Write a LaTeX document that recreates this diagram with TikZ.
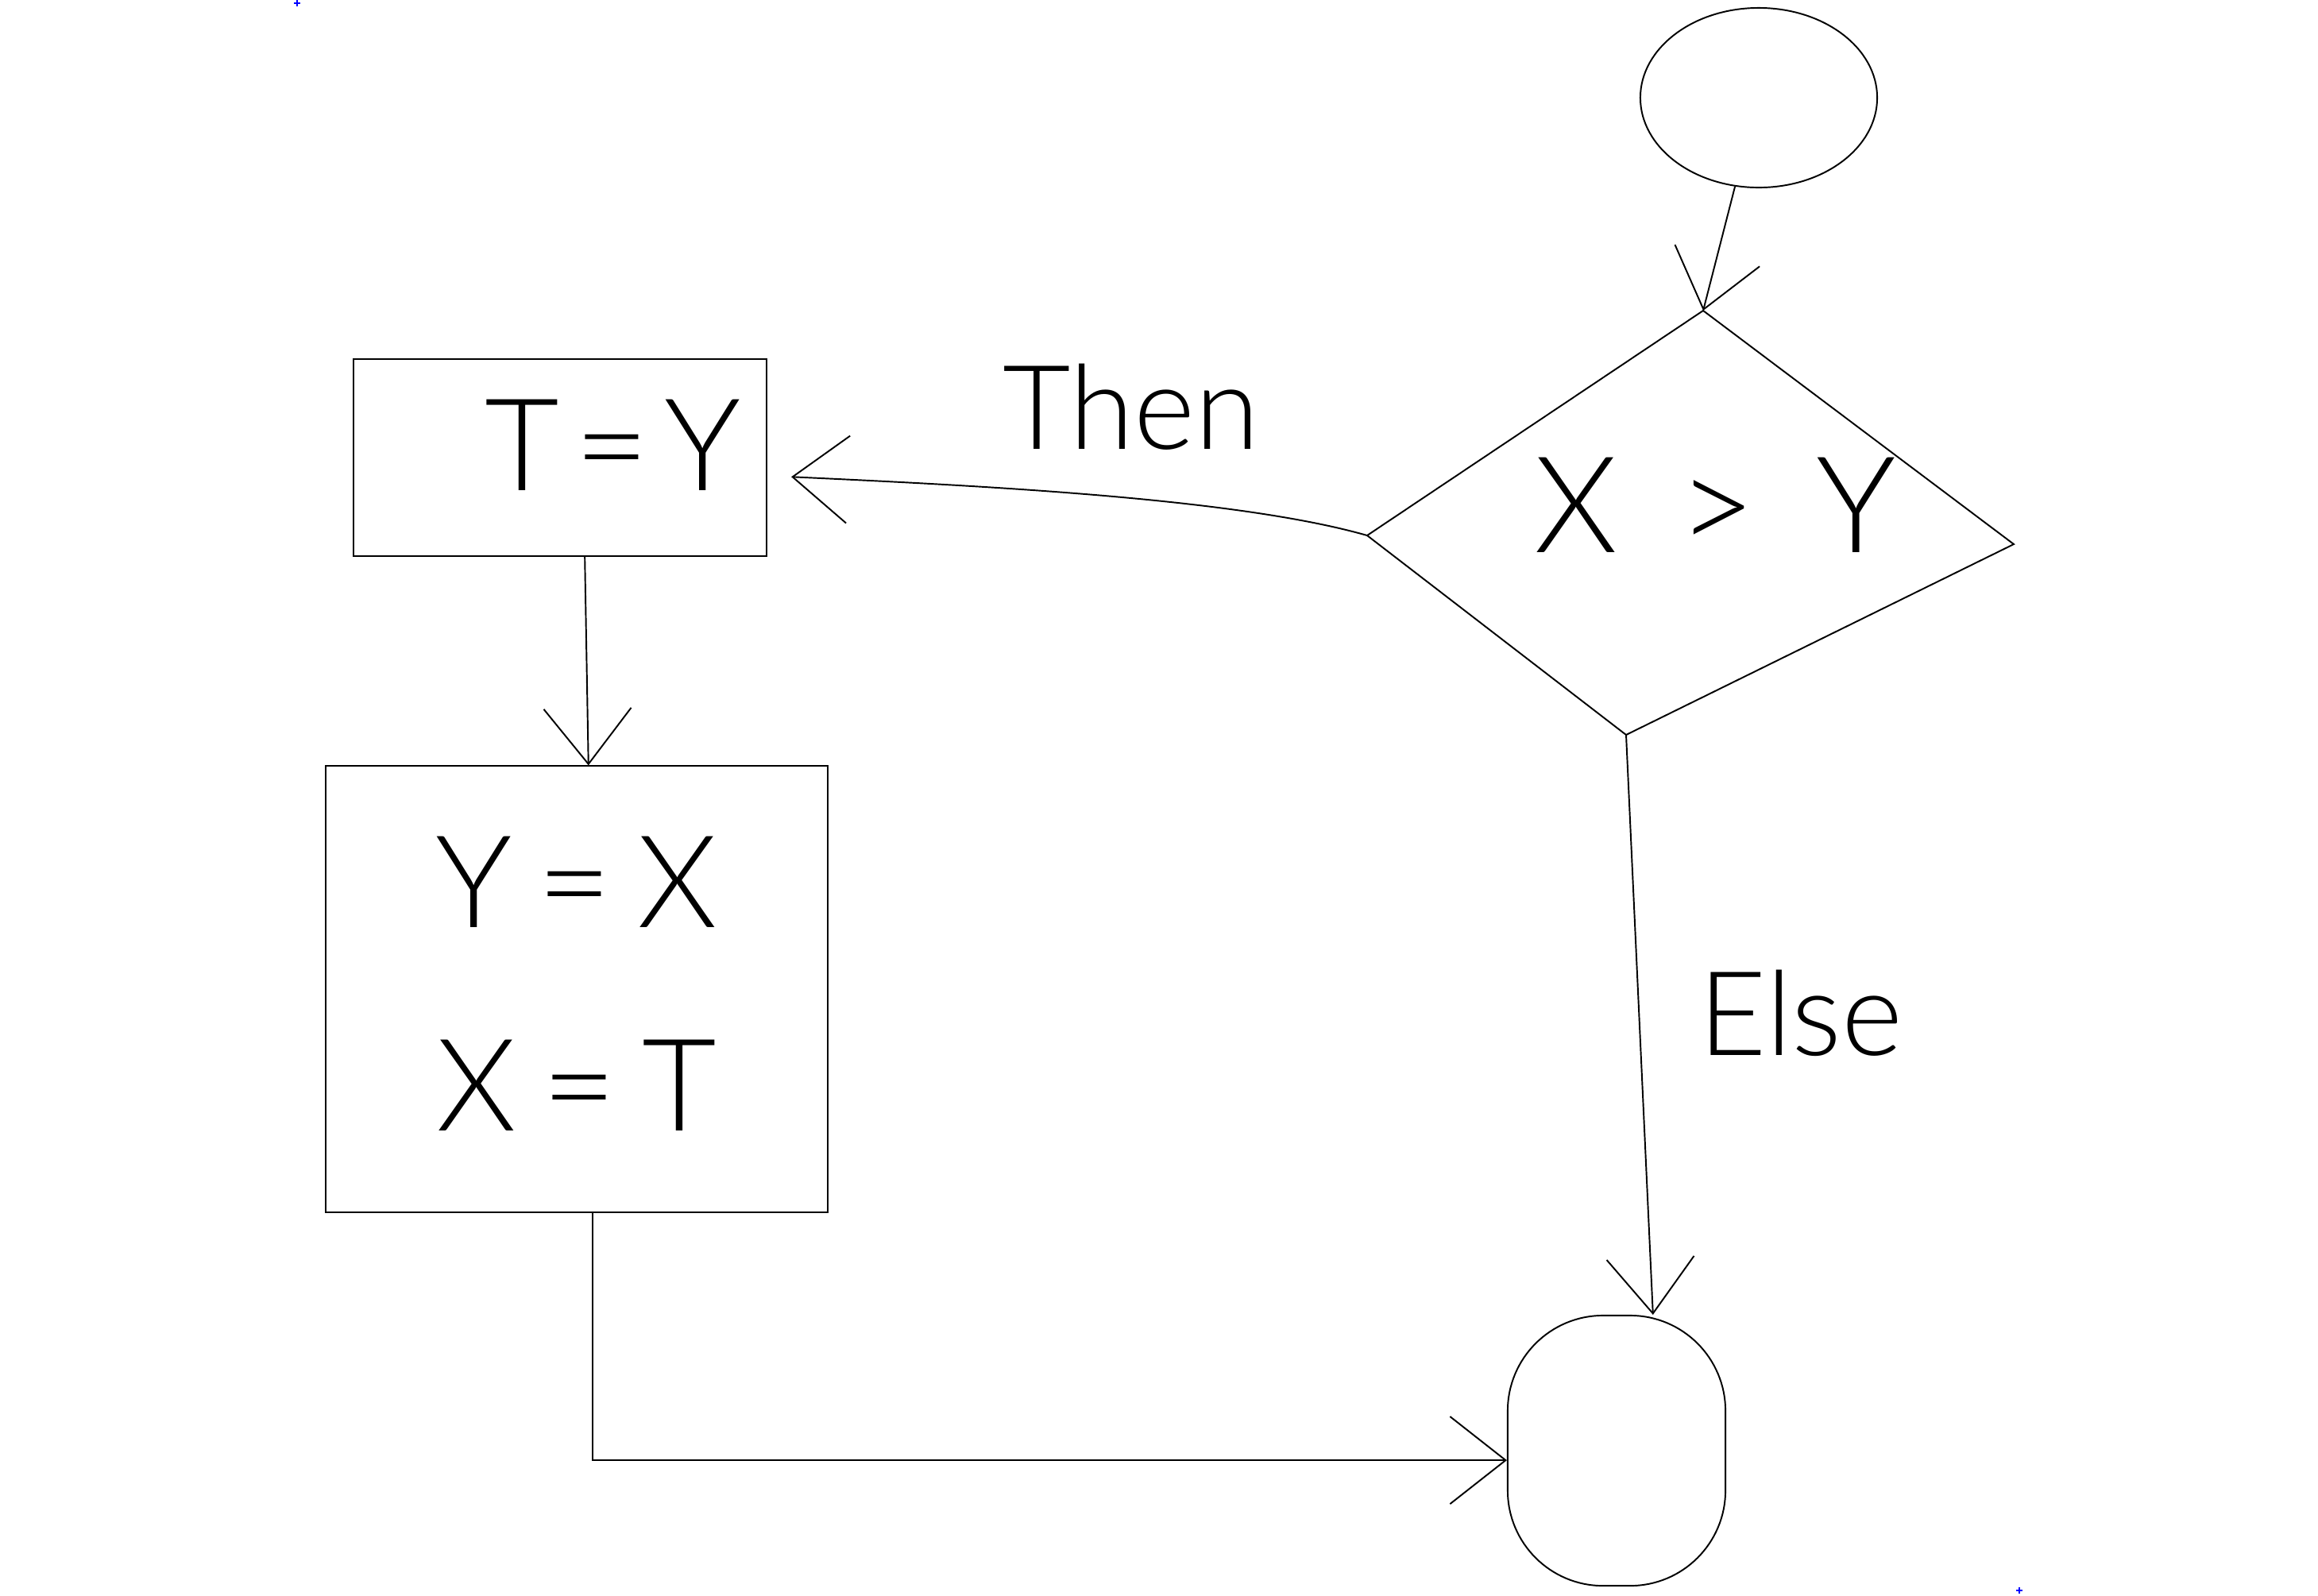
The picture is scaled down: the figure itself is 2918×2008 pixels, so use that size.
\documentclass[tikz,border=0pt]{standalone}
\usepackage{fontspec}
\newfontfamily\hand{Lato Light}
\usetikzlibrary{arrows.meta,shapes.geometric}

\begin{document}
\begin{tikzpicture}[x=0.01cm, y=-0.01cm, line width=0.55pt,
  flow/.style={draw, -{Straight Barb[length=7mm,width=11mm]}},
  box/.style={draw, inner sep=0pt},
  txt/.style={inner sep=0pt, font=\hand\fontsize{46}{50}\selectfont},
  cond/.style={inner sep=0pt, font=\hand\fontsize{48}{52}\selectfont},
  edge label/.style={inner sep=0pt, font=\hand\fontsize{42}{46}\selectfont},
  crossmark/.style={draw=blue, line width=0.7pt}]

\useasboundingbox (0,0) rectangle (2918,2008);

% start and end terminals
\node[ellipse, draw, minimum width=2.98cm, minimum height=2.26cm] (start) at (2214,123) {};
\node[draw, rounded corners=1.2cm, minimum width=2.74cm, minimum height=3.4cm] (finish) at (2035,1826) {};

% decision X > Y
\coordinate (dt) at (2144,391);
\coordinate (dr) at (2535,685);
\coordinate (db) at (2047,925);
\coordinate (dl) at (1721,674);
\draw (dt) -- (dr) -- (db) -- (dl) -- cycle;
\node[cond] (test) at (2159,636) {X\hspace{.45em}>\hspace{.45em}Y};

% process boxes
\node[box, minimum width=5.2cm, minimum height=2.48cm] (b1) at (705,576) {};
\node[txt] (t1) at (772,560) {T\hspace{.12em}=\hspace{.12em}Y};

\node[box, minimum width=6.32cm, minimum height=5.61cm] (b2) at (726,1245) {};
\node[txt] (t2) at (726,1110) {Y\hspace{.2em}=\hspace{.2em}X};
\node[txt] (t3) at (726,1366) {X\hspace{.2em}=\hspace{.2em}T};

% connectors
\draw[flow] (start.255) -- (dt);
\draw[flow, shorten >=0.3cm] (dl) .. controls (1560,628) and (1250,612) .. (b1.-5);
\node[edge label] (then) at (1424,512) {Then};
\draw[flow] (b1.-76) -- (b2.87);
\draw[flow] (db) -- (finish.75);
\node[edge label] (else) at (2267,1275) {Else};
\draw[flow] (b2.-86) |- (finish.-175);

% corner marks
\draw[crossmark] (370,4) -- (378,4) (374,0) -- (374,8);
\draw[crossmark] (2538,2002) -- (2546,2002) (2542,1998) -- (2542,2006);
\end{tikzpicture}
\end{document}
